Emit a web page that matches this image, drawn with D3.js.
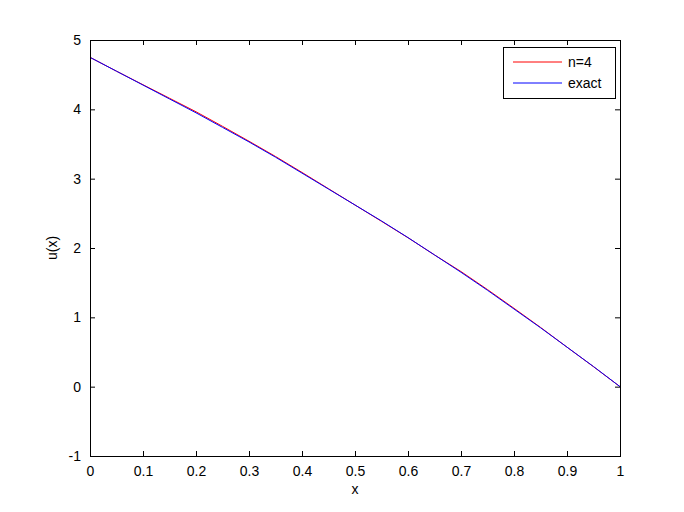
<!DOCTYPE html>
<html><head><meta charset="utf-8">
<script src="https://cdn.jsdelivr.net/npm/d3@7"></script>
<style>body{margin:0;background:#fff}svg{display:block}text{font-family:"Liberation Sans",Arial,sans-serif}</style>
</head><body>
<script>
const xs = [0,0.05,0.1,0.15,0.2,0.25,0.3,0.35,0.4,0.45,0.5,0.55,0.6,0.65,0.7,0.75,0.8,0.85,0.9,0.95,1];
const exact = [4.75,4.55,4.35,4.15,3.95,3.74,3.53,3.31,3.08,2.85,2.62,2.39,2.15,1.90,1.65,1.39,1.12,0.85,0.57,0.29,0];
const approx = [4.75,4.55,4.355,4.16,3.965,3.755,3.54,3.32,3.09,2.855,2.62,2.385,2.148,1.90,1.66,1.40,1.13,0.855,0.57,0.288,0];
const xTicks = [0,0.1,0.2,0.3,0.4,0.5,0.6,0.7,0.8,0.9,1];
const yTicks = [-1,0,1,2,3,4,5];
const seriesNames = ["n=4","exact"];
const seriesColors = ["#ff0000","#0000ff"];

const W=684,H=512, L=90,R=620,T=40,B=456;
const svg=d3.select("body").append("svg").attr("width",W).attr("height",H);
const x=d3.scaleLinear().domain([0,1]).range([L,R]);
const y=d3.scaleLinear().domain([-1,5]).range([B,T]);
const fmt=d=>String(d);

const line=d3.line().x((d,i)=>x(xs[i])).y(d=>y(d));
const g=svg.append("g");
g.append("path").datum(approx).attr("d",line).attr("fill","none").attr("stroke",seriesColors[0]).attr("stroke-width",1);
g.append("path").datum(exact).attr("d",line).attr("fill","none").attr("stroke",seriesColors[1]).attr("stroke-width",1);

const fs=14;
const ax=svg.append("g").attr("transform",`translate(0,${B})`).call(d3.axisBottom(x).tickValues(xTicks).tickFormat(fmt).tickSizeInner(-5).tickSizeOuter(0).tickPadding(10));
const ay=svg.append("g").attr("transform",`translate(${L},0)`).call(d3.axisLeft(y).tickValues(yTicks).tickFormat(fmt).tickSizeInner(-5).tickSizeOuter(0).tickPadding(9));
const axT=svg.append("g").attr("transform",`translate(0,${T})`).call(d3.axisTop(x).tickValues(xTicks).tickFormat("").tickSizeInner(-5).tickSizeOuter(0));
const ayR=svg.append("g").attr("transform",`translate(${R},0)`).call(d3.axisRight(y).tickValues(yTicks).tickFormat("").tickSizeInner(-5).tickSizeOuter(0));
[ax,ay,axT,ayR].forEach(a=>{a.select(".domain").remove();a.selectAll("line").attr("stroke","#000");a.selectAll("text").attr("font-size",fs).attr("font-family","Liberation Sans, Arial, sans-serif").attr("fill","#000");});
svg.append("rect").attr("x",L+0.5).attr("y",T+0.5).attr("width",R-L).attr("height",B-T).attr("fill","none").attr("stroke","#000");

svg.append("text").attr("x",(L+R)/2).attr("y",494).attr("text-anchor","middle").attr("font-size",fs).text("x");
svg.append("text").attr("transform",`translate(57,${(T+B)/2}) rotate(-90)`).attr("text-anchor","middle").attr("font-size",fs).text("u(x)");

const lg=svg.append("g");
lg.append("rect").attr("x",503.5).attr("y",47.5).attr("width",112).attr("height",51).attr("fill","#fff").attr("stroke","#000");
seriesNames.forEach((n,i)=>{
  const yy=62+i*21;
  lg.append("line").attr("x1",513).attr("x2",562).attr("y1",yy).attr("y2",yy).attr("stroke",seriesColors[i]);
  lg.append("text").attr("x",568).attr("y",yy+5).attr("font-size",fs).text(n);
});
</script>
</body></html>
